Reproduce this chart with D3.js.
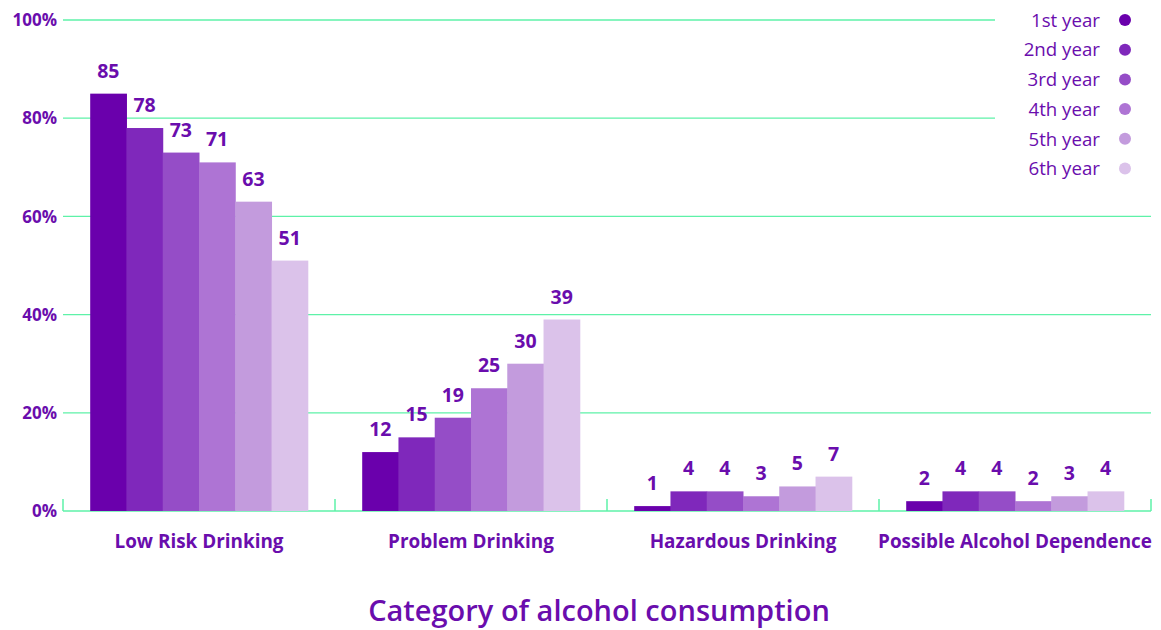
<!DOCTYPE html>
<html><head><meta charset="utf-8">
<script src="https://cdn.jsdelivr.net/npm/d3@7"></script>
<style>body{margin:0;background:#fff}svg{display:block}</style>
</head><body>
<svg id="c" width="1161" height="630"></svg>
<script>
const categories = ["Low Risk Drinking","Problem Drinking","Hazardous Drinking","Possible Alcohol Dependence"];
const seriesNames = ["1st year","2nd year","3rd year","4th year","5th year","6th year"];
const year1 = [85,12,1,2];
const year2 = [78,15,4,4];
const year3 = [73,19,4,4];
const year4 = [71,25,3,2];
const year5 = [63,30,5,3];
const year6 = [51,39,7,4];
const yTicks = [0,20,40,60,80,100];
const colors = ["#6a00ac","#7f28bb","#954dc7","#ae74d4","#c39bdd","#dbc2ea"];
const xTitle = "Category of alcohol consumption";

const series = [year1,year2,year3,year4,year5,year6];
const txt = "#6a0dad", grid = "#5ef2a8";
const font = "'Open Sans', sans-serif";
const svg = d3.select("#c");
const L = 63, R = 1151, T = 20, B = 511;
const x0 = d3.scaleBand().domain(categories).range([L,R]).paddingInner(0.2).paddingOuter(0.1);
const x1 = d3.scaleBand().domain(seriesNames).range([0,x0.bandwidth()]);
const y = d3.scaleLinear().domain([0,100]).range([B,T]);

svg.append("g").selectAll("line").data(yTicks.filter(d=>d>0)).join("line")
  .attr("x1",L).attr("x2",R).attr("y1",d=>y(d)).attr("y2",d=>y(d))
  .attr("stroke",grid).attr("stroke-width",1.3);
const step = x0.step();
svg.append("line").attr("x1",L).attr("x2",R).attr("y1",B).attr("y2",B).attr("stroke",grid).attr("stroke-width",1.5);
svg.append("g").selectAll("line").data(d3.range(categories.length+1)).join("line")
  .attr("x1",i=>L+i*step).attr("x2",i=>L+i*step).attr("y1",B-12).attr("y2",B)
  .attr("stroke",grid).attr("stroke-width",1.5);

svg.append("g").selectAll("text").data(yTicks).join("text")
  .attr("x",57).attr("y",d=>y(d)).attr("dy","0.36em").attr("text-anchor","end")
  .attr("font-family",font).attr("font-weight",700).attr("font-size",17).attr("fill",txt)
  .text(d=>d+"%");

const g = svg.append("g");
categories.forEach((c,ci)=>{
  seriesNames.forEach((s,si)=>{
    const v = series[si][ci];
    g.append("rect").attr("x",x0(c)+x1(s)).attr("y",y(v)).attr("width",x1.bandwidth()+0.5).attr("height",B-y(v)).attr("fill",colors[si]);
    g.append("text").attr("x",x0(c)+x1(s)+x1.bandwidth()/2).attr("y",y(v)-16)
      .attr("text-anchor","middle").attr("font-family",font).attr("font-weight",700).attr("font-size",19.5).attr("fill",txt).text(v);
  });
});

svg.append("g").selectAll("text").data(categories).join("text")
  .attr("x",d=>x0(d)+x0.bandwidth()/2).attr("y",548).attr("text-anchor","middle")
  .attr("font-family",font).attr("font-weight",700).attr("font-size",18.9).attr("fill",txt).text(d=>d);

svg.append("text").attr("x",599).attr("y",621).attr("text-anchor","middle")
  .attr("font-family",font).attr("font-weight",600).attr("font-size",29).attr("fill",txt).text(xTitle);

svg.append("rect").attr("x",995).attr("y",5).attr("width",166).attr("height",180).attr("fill","#fff");
const lg = svg.append("g");
seriesNames.forEach((s,i)=>{
  const yy = 20 + i*29.7;
  lg.append("text").attr("x",1100).attr("y",yy).attr("dy","0.36em").attr("text-anchor","end")
    .attr("font-family",font).attr("font-size",18.7).attr("fill",txt).text(s);
  lg.append("circle").attr("cx",1125).attr("cy",yy).attr("r",6).attr("fill",colors[i]);
});
</script>
</body></html>
